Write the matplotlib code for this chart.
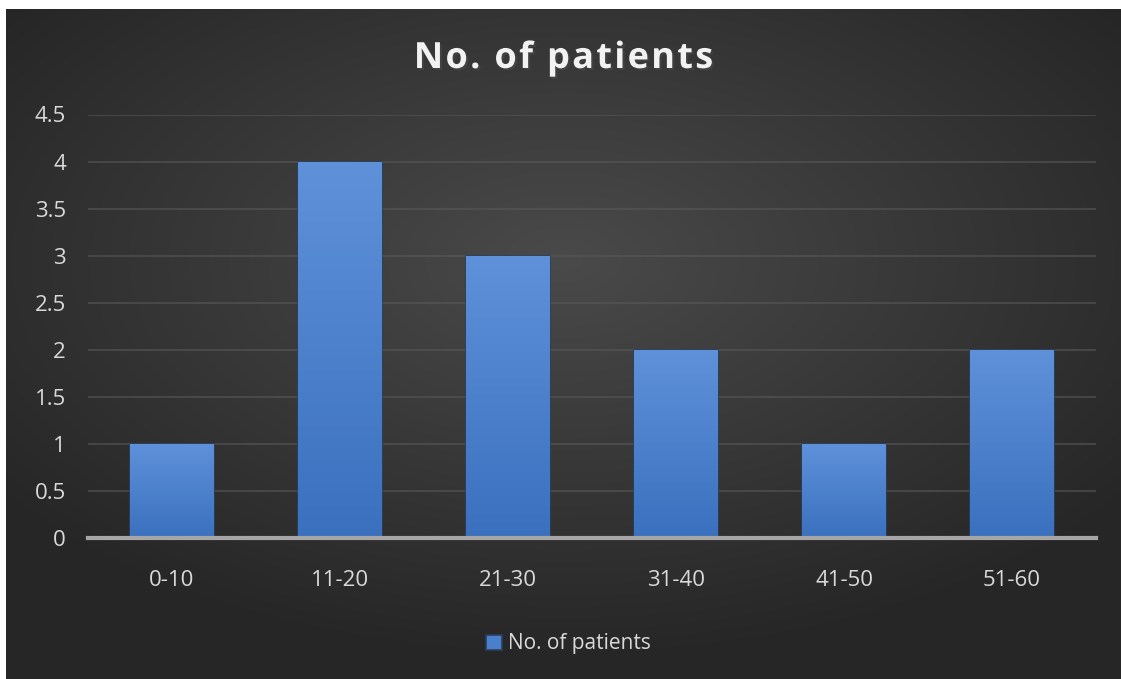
import numpy as np
import matplotlib
matplotlib.use("Agg")
from matplotlib import pyplot as plt
import matplotlib.patheffects as pe
from matplotlib.font_manager import FontProperties
from matplotlib.textpath import TextToPath

# chart data
age_groups = ["0-10", "11-20", "21-30", "31-40", "41-50", "51-60"]
patients = [1, 4, 3, 2, 1, 2]
y_ticks = [0, 0.5, 1, 1.5, 2, 2.5, 3, 3.5, 4, 4.5]
title = "No. of patients"

plt.rcParams["font.family"] = ["Open Sans", "DejaVu Sans"]

W, H = 1121, 679
fig = plt.figure(figsize=(W / 100, H / 100), dpi=100, facecolor="white")

# dark radial background (white strip on top/left like the screenshot)
bg = fig.add_axes([6 / W, 0, 1 - 6 / W, 1 - 9 / H], zorder=0)
yy, xx = np.mgrid[-1:1:300j, -1:1:500j]
r = np.sqrt((xx * 0.85) ** 2 + ((yy + 0.25) * 0.9) ** 2)
shade = np.clip(0.29 - 0.13 * r, 0.15, 0.30)
bg.imshow(np.dstack([shade, shade, shade]), aspect="auto", extent=[0, 1, 0, 1])
bg.set_axis_off()

ax = fig.add_axes([88 / W, (H - 538) / H, (1096 - 88) / W, (538 - 114.5) / H], zorder=1)
ax.patch.set_alpha(0)

x = np.arange(len(age_groups))
bars = ax.bar(x, patients, width=0.5, color="#4a7fcc", edgecolor="#2c3f5e",
              linewidth=1.2, zorder=3)

# vertical gradient on each bar
grad = np.linspace(0, 1, 256).reshape(-1, 1)
top = np.array([0.37, 0.57, 0.85])
bot = np.array([0.23, 0.44, 0.75])
img = grad[..., None] * top + (1 - grad[..., None]) * bot
for b in bars:
    x0, y0 = b.get_x(), b.get_y()
    im = ax.imshow(img, extent=[x0, x0 + b.get_width(), y0, y0 + b.get_height()],
                   origin="lower", aspect="auto", zorder=3.5)
    im.set_clip_path(b)

ax.set_xlim(-0.5, len(age_groups) - 0.5)
ax.set_ylim(0, 4.5)
ax.set_yticks(y_ticks)
ax.set_yticklabels([f"{v:g}" for v in y_ticks])
ax.set_xticks(x)
ax.set_xticklabels(age_groups)
ax.tick_params(axis="both", length=0, colors="#d9d9d9", labelsize=16)
ax.tick_params(axis="y", pad=16)
ax.tick_params(axis="x", pad=23)

ax.grid(axis="y", color="#5a5a5a", linewidth=1.5, alpha=0.55, zorder=1)
for s in ["top", "right", "left"]:
    ax.spines[s].set_visible(False)
ax.spines["bottom"].set_color("#a6a6a6")
ax.spines["bottom"].set_linewidth(3)
ax.spines["bottom"].set_zorder(4)

# title with letter spacing, drawn char by char
prop = FontProperties(family="Open Sans", weight="bold", size=26)
t2p = TextToPath()
def text_w(s):
    return t2p.get_text_width_height_descent(s, prop, ismath=False)[0] * 100 / 72
spacing = 2.3
total = text_w(title) + spacing * (len(title) - 1)
start = W / 2 - total / 2 + 3
for i, ch in enumerate(title):
    px = start + text_w(title[:i]) + spacing * i
    fig.text(px / W, 1 - 68 / H, ch, ha="left", va="baseline",
             fontproperties=prop, color="#f2f2f2",
             path_effects=[pe.withSimplePatchShadow(offset=(1.5, -1.5), alpha=0.6)])

fig.legend([bars], ["No. of patients"], loc="center", bbox_to_anchor=(0.507, 1 - 644 / H),
           frameon=False, fontsize=15, labelcolor="#d9d9d9", handlelength=0.75,
           handleheight=0.75, handletextpad=0.3)

fig.savefig("out.png", dpi=100, facecolor="white")
